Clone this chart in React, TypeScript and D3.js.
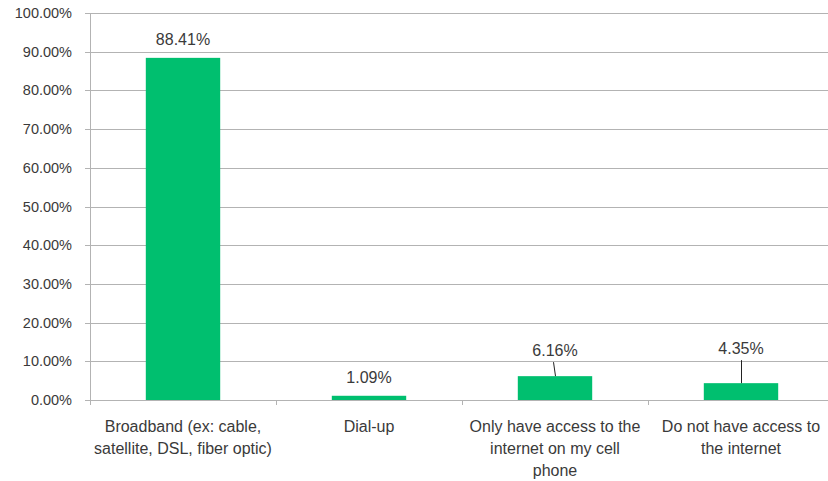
import React from "react";
import * as d3 from "d3";

const categories = [
  "Broadband (ex: cable, satellite, DSL, fiber optic)",
  "Dial-up",
  "Only have access to the internet on my cell phone",
  "Do not have access to the internet",
];
const categoryLines = [
  ["Broadband (ex: cable,", "satellite, DSL, fiber optic)"],
  ["Dial-up"],
  ["Only have access to the", "internet on my cell", "phone"],
  ["Do not have access to", "the internet"],
];
const values = [0.8841, 0.0109, 0.0616, 0.0435];
const valueLabels = ["88.41%", "1.09%", "6.16%", "4.35%"];
const yTicks = [0, 0.1, 0.2, 0.3, 0.4, 0.5, 0.6, 0.7, 0.8, 0.9, 1.0];

// label placement (pixel offsets for manually moved labels with leader lines)
const labelLift = [0, 0, 7, 16];
const leaderSlant = [0, 0, -2, 0];

if (typeof document !== "undefined") document.body.style.margin = "0";

const W = 828;
const H = 481;
const left = 90;
const right = 835;
const top = 13;
const bottom = 400;
const FONT = "'Liberation Sans', Arial, sans-serif";
const TEXT = "#3a3a3a";
const GRID = "#b3b3b3";
const GREEN = "#00bf6f";

export default function App() {
  const x = d3.scaleBand<string>().domain(categories).range([left, left + 186 * 4]).paddingInner(0).paddingOuter(0);
  const y = d3.scaleLinear().domain([0, 1]).range([bottom, top]);
  const bw = x.bandwidth() * 0.4;
  const fmt = d3.format(".2%");

  return (
    <svg width={W} height={H} style={{ display: "block", fontFamily: FONT }}>
      <rect x={0} y={0} width={W} height={H} fill="#fff" />
      {yTicks.map((t) => (
        <g key={t}>
          <line x1={left - 5} x2={right} y1={Math.round(y(t)) + 0.5} y2={Math.round(y(t)) + 0.5} stroke={GRID} strokeWidth={1} />
          <text x={left - 18} y={y(t)} dy="0.35em" textAnchor="end" fontSize={14.5} fill={TEXT}>
            {fmt(t)}
          </text>
        </g>
      ))}
      <line x1={left + 0.5} x2={left + 0.5} y1={top} y2={bottom + 5} stroke={GRID} />
      {categories.map((c, i) => {
        const x0 = x(c)!;
        return <line key={"t" + i} x1={x0 + x.bandwidth() + 0.5} x2={x0 + x.bandwidth() + 0.5} y1={bottom} y2={bottom + 5} stroke={GRID} />;
      })}
      {categories.map((c, i) => {
        const cx = x(c)! + x.bandwidth() / 2;
        const barTop = y(values[i]);
        const lift = labelLift[i];
        const labelY = barTop - 13 - lift;
        return (
          <g key={c}>
            <rect x={cx - bw / 2} y={barTop} width={bw} height={bottom - barTop} fill={GREEN} />
            {lift > 0 && (
              <line x1={cx + leaderSlant[i] + 0.5} x2={cx + 0.5} y1={labelY + 6} y2={barTop} stroke="#222" strokeWidth={1} />
            )}
            <text x={cx} y={labelY} textAnchor="middle" fontSize={16} fill={TEXT}>
              {valueLabels[i]}
            </text>
            {categoryLines[i].map((ln, j) => (
              <text key={j} x={cx} y={432 + j * 22} textAnchor="middle" fontSize={16} fill={TEXT}>
                {ln}
              </text>
            ))}
          </g>
        );
      })}
    </svg>
  );
}
